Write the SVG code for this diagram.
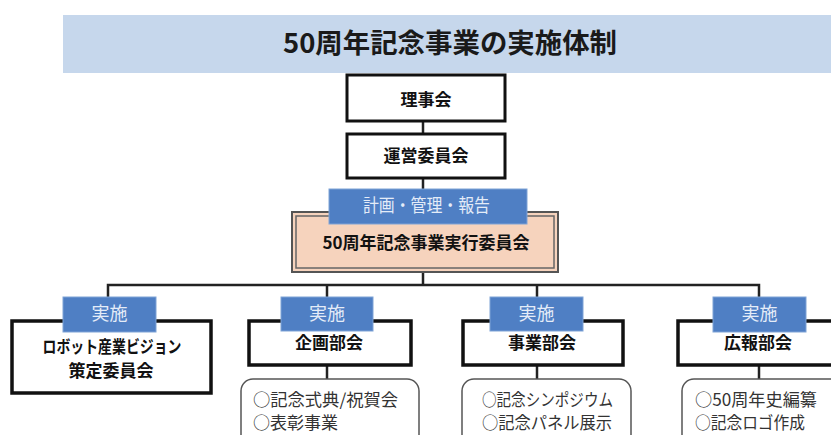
<svg xmlns="http://www.w3.org/2000/svg" width="831" height="435" viewBox="0 0 831 435">
<style>
text{font-family:"Noto Sans CJK JP","Noto Sans",sans-serif;}
.box{fill:#fff;stroke:#111;stroke-width:3.5;}
.top{fill:#fff;stroke:#111;stroke-width:3;}
.lbl{fill:#4f7fc4;stroke:#7fa3d6;stroke-width:1;}
.lt{fill:#e4ecf8;font-size:18px;text-anchor:middle;}
.nt{fill:#111;font-size:17px;font-weight:700;text-anchor:middle;}
.rt{fill:#fff;stroke:#555;stroke-width:1.5;}
.it{fill:#333;font-size:17px;}
.con{stroke:#222;stroke-width:2.5;fill:none;}
</style>
<rect x="0" y="0" width="831" height="435" fill="#fff"/>
<g id="title">
<rect x="63" y="15" width="768" height="58" fill="#c6d7ec"/>
<text x="450" y="53" font-size="27" font-weight="700" fill="#1a1a1a" text-anchor="middle" textLength="334" lengthAdjust="spacingAndGlyphs">50周年記念事業の実施体制</text>
</g>
<g id="connectors">
<line class="con" x1="423" y1="121" x2="423" y2="134"/>
<line class="con" x1="423" y1="178" x2="423" y2="190"/>
<line class="con" x1="423" y1="272" x2="423" y2="285"/>
<polyline class="con" points="108,297 108,285 759,285 759,297"/>
<line class="con" x1="327" y1="285" x2="327" y2="297"/>
<line class="con" x1="537" y1="285" x2="537" y2="297"/>
<line class="con" x1="327" y1="365" x2="327" y2="379"/>
<line class="con" x1="537" y1="365" x2="537" y2="379"/>
<line class="con" x1="759" y1="365" x2="759" y2="379"/>
</g>
<g id="rijikai">
<rect class="top" x="347" y="75" width="158" height="46"/>
<text class="nt" x="426" y="106">理事会</text>
</g>
<g id="unei">
<rect class="top" x="347" y="134" width="158" height="44"/>
<text class="nt" x="426" y="162">運営委員会</text>
</g>
<g id="jikko">
<rect x="292" y="212" width="266" height="60" fill="#f6d3bd" stroke="#555" stroke-width="2"/>
<rect x="296" y="216" width="258" height="52" fill="none" stroke="#666" stroke-width="1.5"/>
<rect class="lbl" x="329" y="189" width="198" height="35"/>
<text class="lt" x="426.5" y="212" textLength="127" lengthAdjust="spacingAndGlyphs">計画・管理・報告</text>
<text class="nt" x="426" y="249">50周年記念事業実行委員会</text>
</g>
<g id="robot">
<rect class="box" x="12" y="321" width="199" height="72"/>
<rect class="lbl" x="63" y="297" width="93" height="35"/>
<text class="lt" x="109.5" y="320">実施</text>
<text class="nt" x="112" y="353" font-size="16" textLength="139" lengthAdjust="spacingAndGlyphs">ロボット産業ビジョン</text>
<text class="nt" x="111" y="377" font-size="16">策定委員会</text>
</g>
<g id="kikaku">
<rect class="box" x="249" y="321" width="162" height="44"/>
<rect class="lbl" x="281" y="297" width="92" height="34"/>
<text class="lt" x="327" y="320">実施</text>
<text class="nt" x="329" y="349">企画部会</text>
</g>
<g id="jigyo">
<rect class="box" x="463" y="321" width="160" height="44"/>
<rect class="lbl" x="490" y="297" width="93" height="34"/>
<text class="lt" x="536.5" y="320">実施</text>
<text class="nt" x="542" y="349">事業部会</text>
</g>
<g id="koho">
<rect class="box" x="678" y="321" width="170" height="44"/>
<rect class="lbl" x="713" y="297" width="93" height="35"/>
<text class="lt" x="759.5" y="320">実施</text>
<text class="nt" x="758" y="349">広報部会</text>
</g>
<g id="kikaku-items">
<rect class="rt" x="241" y="379" width="178" height="80" rx="12"/>
<text class="it" x="253" y="406" textLength="145" lengthAdjust="spacingAndGlyphs">○記念式典/祝賀会</text>
<text class="it" x="253" y="429">○表彰事業</text>
</g>
<g id="jigyo-items">
<rect class="rt" x="462" y="379" width="169" height="80" rx="12"/>
<text class="it" x="482" y="406" textLength="131" lengthAdjust="spacingAndGlyphs">○記念シンポジウム</text>
<text class="it" x="482" y="429" textLength="130" lengthAdjust="spacingAndGlyphs">○記念パネル展示</text>
</g>
<g id="koho-items">
<rect class="rt" x="682" y="379" width="170" height="80" rx="12"/>
<text class="it" x="695" y="406" textLength="122" lengthAdjust="spacingAndGlyphs">○50周年史編纂</text>
<text class="it" x="695" y="429" textLength="110" lengthAdjust="spacingAndGlyphs">○記念ロゴ作成</text>
</g>
</svg>
